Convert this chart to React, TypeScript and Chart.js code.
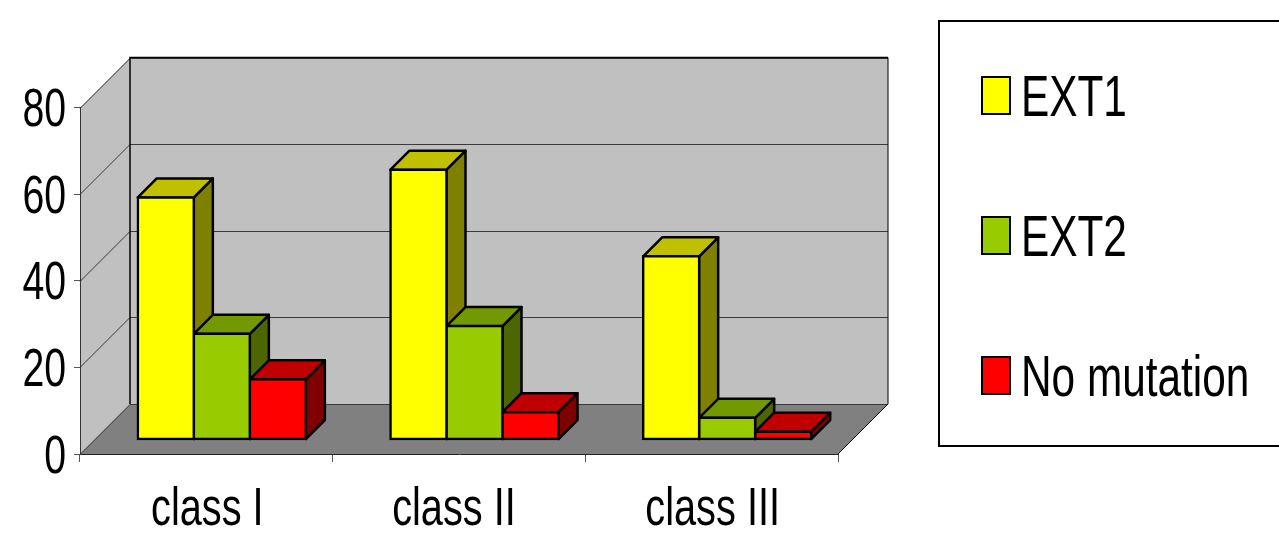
import React, { useEffect, useRef } from "react";
import { Chart, registerables } from "chart.js";

Chart.register(...registerables);

const categories = ["class I", "class II", "class III"];
const ext1Values = [55.9, 62.3, 42.3];
const ext2Values = [24.4, 26.2, 5.0];
const noMutationValues = [13.9, 6.3, 1.8];
const yTickStep = 20;
const yMax = 80;

const FONT = '"Liberation Sans", Arial, sans-serif';

// Depth of the floor and walls, the inset of the bars from the front edge,
// and the depth of each bar.
const FLOOR_DEPTH = 50;
const BAR_INSET_X = 15.5;
const BAR_INSET_Y = 14.5;
const BAR_DEPTH = 19;
const EDGE = 2.5;

const shades: Record<string, { top: string; side: string }> = {
  "#FFFF00": { top: "#C0C000", side: "#808000" },
  "#99CC00": { top: "#739900", side: "#4D6600" },
  "#FF0000": { top: "#C00000", side: "#800000" },
};

function polygon(ctx: CanvasRenderingContext2D, pts: number[][], fill: string | null, stroke: string | null, lw = 1) {
  ctx.beginPath();
  pts.forEach(([x, y], i) => (i ? ctx.lineTo(x, y) : ctx.moveTo(x, y)));
  ctx.closePath();
  if (fill) {
    ctx.fillStyle = fill;
    ctx.fill();
  }
  if (stroke) {
    ctx.strokeStyle = stroke;
    ctx.lineWidth = lw;
    ctx.lineJoin = "round";
    ctx.stroke();
  }
}

// Text squeezed horizontally, the way the condensed labels of this chart are set.
function condensedText(
  ctx: CanvasRenderingContext2D,
  text: string,
  x: number,
  y: number,
  size: number,
  squeeze: number,
  align: CanvasTextAlign,
) {
  ctx.save();
  ctx.translate(x, y);
  ctx.scale(squeeze, 1);
  ctx.font = `${size}px ${FONT}`;
  ctx.fillStyle = "#000";
  ctx.textAlign = align;
  ctx.textBaseline = "alphabetic";
  ctx.fillText(text, 0, 0);
  ctx.restore();
}

// Left wall, back wall, floor and the gridlines that run across them.
const roomPlugin = {
  id: "room",
  beforeDraw(chart: any) {
    const { ctx, chartArea: a, scales } = chart;
    const d = FLOOR_DEPTH;
    ctx.save();
    polygon(ctx, [[a.left, a.top], [a.left + d, a.top - d], [a.left + d, a.bottom - d], [a.left, a.bottom]], "#C0C0C0", null);
    polygon(ctx, [[a.left + d, a.top - d], [a.right + d, a.top - d], [a.right + d, a.bottom - d], [a.left + d, a.bottom - d]], "#C0C0C0", null);
    polygon(ctx, [[a.left, a.bottom], [a.right, a.bottom], [a.right + d, a.bottom - d], [a.left + d, a.bottom - d]], "#808080", null);

    ctx.strokeStyle = "#3a3a3a";
    ctx.lineWidth = 1;
    for (const t of scales.y.ticks) {
      const y = Math.round(scales.y.getPixelForValue(t.value)) + 0.5;
      ctx.beginPath();
      ctx.moveTo(a.left, y);
      ctx.lineTo(a.left + d, y - d);
      ctx.lineTo(a.right + d, y - d);
      ctx.stroke();
    }
    ctx.strokeStyle = "#000";
    ctx.lineWidth = 1.5;
    ctx.beginPath();
    ctx.moveTo(a.left + d, a.bottom - d);
    ctx.lineTo(a.left + d, a.top - d);
    ctx.lineTo(a.right + d, a.top - d);
    ctx.stroke();
    ctx.lineWidth = 1;
    ctx.beginPath();
    ctx.moveTo(a.right, a.bottom);
    ctx.lineTo(a.right + d, a.bottom - d);
    ctx.lineTo(a.right + d, a.top - d);
    ctx.stroke();
    ctx.restore();
  },
};

// Extrudes the bars: tops and sides go down first, left to right, and the
// front faces drawn by the bar controller land on top, shifted into the room.
const extrudePlugin = {
  id: "extrude",
  beforeDatasetsDraw(chart: any) {
    const { ctx } = chart;
    const k = BAR_DEPTH;
    ctx.save();
    ctx.translate(BAR_INSET_X, -BAR_INSET_Y);
    chart.data.datasets.forEach((ds: any, i: number) => {
      const c = shades[ds.backgroundColor];
      chart.getDatasetMeta(i).data.forEach((bar: any) => {
        const p = bar.getProps(["x", "y", "base", "width"], true);
        const l = p.x - p.width / 2;
        const r = p.x + p.width / 2;
        polygon(ctx, [[r, p.y], [r + k, p.y - k], [r + k, p.base - k], [r, p.base]], c.side, "#000", EDGE);
        polygon(ctx, [[l, p.y], [l + k, p.y - k], [r + k, p.y - k], [r, p.y]], c.top, "#000", EDGE);
      });
    });
  },
  afterDatasetsDraw(chart: any) {
    chart.ctx.restore();
  },
};

// Axis labels, condensed and placed from the scales' own tick positions.
const axisLabelPlugin = {
  id: "axisLabels",
  afterDraw(chart: any) {
    const { ctx, scales } = chart;
    const xNudge = [1, -5, 1];
    scales.y.ticks.forEach((t: any) => {
      condensedText(ctx, String(t.value), 66, scales.y.getPixelForValue(t.value) + 18.5, 53, 0.74, "right");
    });
    categories.forEach((label, i) => {
      condensedText(ctx, label, scales.x.getPixelForValue(i) + xNudge[i], 525, 53, 0.75, "center");
    });
  },
};

// Framed legend panel on the right, running off the canvas edge.
const legendPanelPlugin = {
  id: "legendPanel",
  afterDraw(chart: any) {
    const { ctx } = chart;
    ctx.save();
    ctx.strokeStyle = "#000";
    ctx.lineWidth = 2;
    ctx.strokeRect(939, 21, 360, 425);
    const swatchTops = [77, 217, 357];
    chart.data.datasets.forEach((ds: any, i: number) => {
      const top = swatchTops[i];
      ctx.fillStyle = ds.backgroundColor;
      ctx.fillRect(982, top, 28, 37);
      ctx.strokeStyle = "#000";
      ctx.lineWidth = 2;
      ctx.strokeRect(982, top, 28, 37);
      condensedText(ctx, ds.label, 1021, top + 38.5, 58, 0.73, "left");
    });
    ctx.restore();
  },
};

export default function App() {
  const ref = useRef<HTMLCanvasElement>(null);

  useEffect(() => {
    document.body.style.margin = "0";
    const series = [
      { label: "EXT1", data: ext1Values, backgroundColor: "#FFFF00" },
      { label: "EXT2", data: ext2Values, backgroundColor: "#99CC00" },
      { label: "No mutation", data: noMutationValues, backgroundColor: "#FF0000" },
    ];
    const chart = new Chart(ref.current!, {
      type: "bar",
      data: {
        labels: categories,
        datasets: series.map((s) => ({
          ...s,
          borderColor: "#000",
          borderWidth: EDGE,
          borderSkipped: false,
          inflateAmount: EDGE / 2,
          clip: false,
          categoryPercentage: 0.665,
          barPercentage: 1,
        })),
      } as any,
      plugins: [roomPlugin, extrudePlugin, axisLabelPlugin, legendPanelPlugin],
      options: {
        responsive: false,
        animation: false,
        layout: { padding: { left: 0, top: 107.5, right: 441, bottom: 0 } },
        plugins: { legend: { display: false }, tooltip: { enabled: false }, title: { display: false } },
        scales: {
          x: {
            afterFit: (s: any) => {
              s.height = 85;
            },
            grid: { drawOnChartArea: false, drawTicks: true, tickLength: 8, tickColor: "#555", offset: true },
            border: { display: true, color: "#222", width: 1 },
            ticks: { display: false },
          },
          y: {
            min: 0,
            max: yMax,
            afterFit: (s: any) => {
              s.width = 80;
            },
            grid: { drawOnChartArea: false, drawTicks: true, tickLength: 6, tickColor: "#555" },
            border: { display: true, color: "#333", width: 1 },
            ticks: { display: false, stepSize: yTickStep },
          },
        },
      },
    } as any);
    return () => chart.destroy();
  }, []);

  return <canvas ref={ref} width={1279} height={539} style={{ display: "block" }} />;
}
